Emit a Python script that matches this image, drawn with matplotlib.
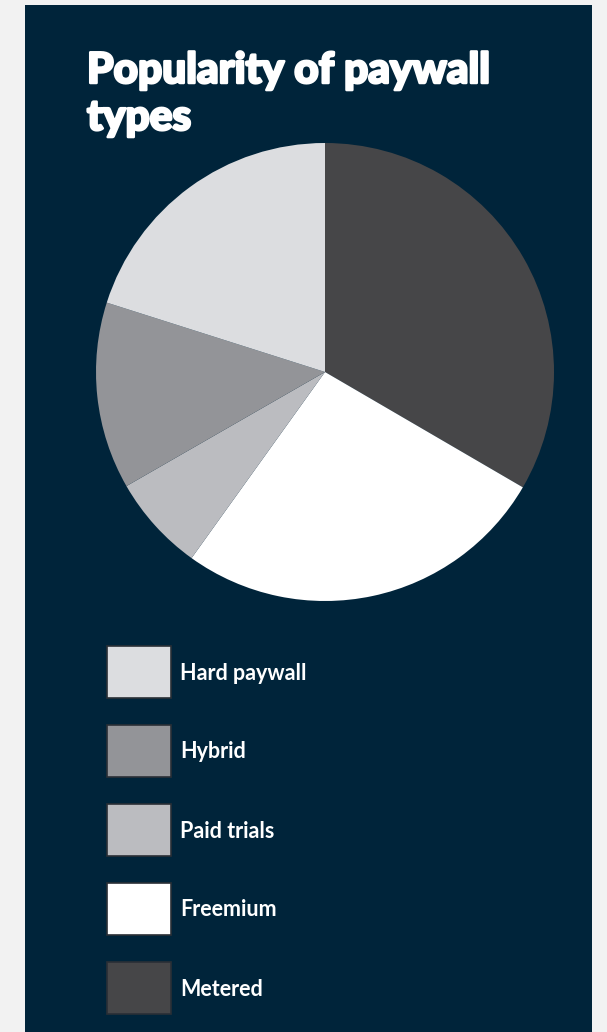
import matplotlib.pyplot as plt
import matplotlib.patheffects as pe
from matplotlib.patches import Rectangle

# slices in drawing order, clockwise from 12 o'clock
labels = ['Metered', 'Freemium', 'Paid trials', 'Hybrid', 'Hard paywall']
shares = [33.4, 26.5, 6.8, 13.2, 20.1]
colors = ['#464648', '#ffffff', '#bbbcc0', '#939498', '#dcdde0']

W, H = 607, 1032
fig = plt.figure(figsize=(W / 100, H / 100), dpi=100)
fig.patch.set_facecolor('#f2f2f2')

# navy panel
fig.patches.append(Rectangle((25 / W, 0), 567 / W, 1027 / H, transform=fig.transFigure,
                             facecolor='#00243a', edgecolor='none', zorder=-5))

heavy = [pe.withStroke(linewidth=1.8, foreground='white')]
fig.text(87 / W, 1 - 83 / H, 'Popularity of paywall', color='white', fontsize=30.5,
         fontfamily='Lato', fontweight='black', va='baseline', ha='left',
         path_effects=heavy)
fig.text(87 / W, 1 - 130 / H, 'types', color='white', fontsize=30.5,
         fontfamily='Lato', fontweight='black', va='baseline', ha='left',
         path_effects=heavy)

cx, cy, r = 325, 372, 229
ax = fig.add_axes([(cx - r) / W, 1 - (cy + r) / H, 2 * r / W, 2 * r / H])
ax.pie(shares, colors=colors, startangle=90, counterclock=False, radius=1,
       wedgeprops=dict(linewidth=0))
ax.set_xlim(-1, 1)
ax.set_ylim(-1, 1)
ax.set_aspect('auto')
ax.axis('off')

# legend, reverse order
for i, (lab, col) in enumerate(zip(labels[::-1], colors[::-1])):
    top = 646 + i * 79
    fig.patches.append(Rectangle((107 / W, 1 - (top + 52) / H), 64 / W, 52 / H,
                                 transform=fig.transFigure, facecolor=col,
                                 edgecolor='#2a2f36', linewidth=1.2, zorder=2))
    fig.text(180 / W, 1 - (top + 27) / H, lab, color='white', fontsize=15.5,
             fontfamily='Lato', fontweight='bold', va='center', ha='left')

fig.savefig('out.png', dpi=100, facecolor=fig.get_facecolor())
